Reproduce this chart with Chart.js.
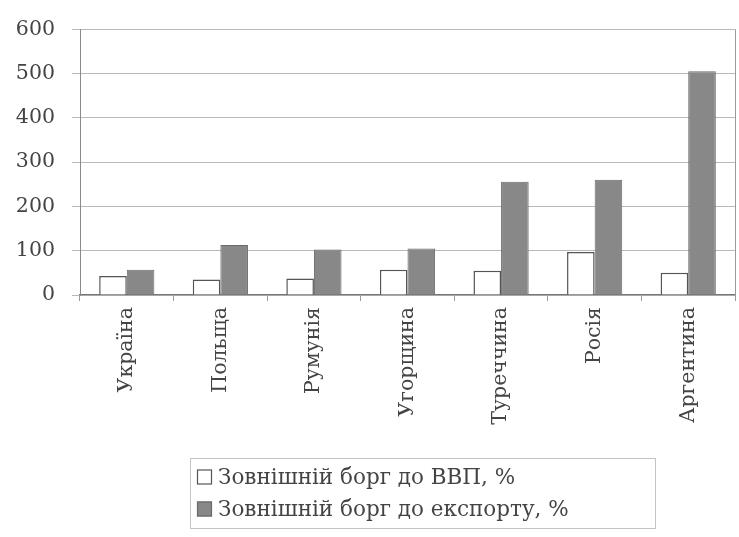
<!DOCTYPE html>
<html><head><meta charset="utf-8">
<script src="https://cdn.jsdelivr.net/npm/chart.js@4/dist/chart.umd.min.js"></script>
<style>html,body{margin:0;padding:0;background:#fff;} #wrap{width:739px;height:537px;}</style>
</head><body><div id="wrap"><canvas id="c" width="739" height="537"></canvas></div>
<script>
const categories = ['Україна','Польща','Румунія','Угорщина','Туреччина','Росія','Аргентина'];
const debtToGdp = [43, 35, 37, 57, 55, 97, 50];
const debtToExports = [57, 113, 103, 105, 256, 260, 505];
const seriesLabels = ['Зовнішній борг до ВВП, %', 'Зовнішній борг до експорту, %'];
const yMin = 0, yMax = 600, yStep = 100;

const FONT = '"DejaVu Serif", "Liberation Serif", serif';
const TEXT = '#444444';

const frame = {
  id: 'frame',
  afterDatasetsDraw(chart) {
    const {ctx, chartArea: a} = chart;
    ctx.save();
    ctx.strokeStyle = '#9a9a9a';
    ctx.lineWidth = 1;
    ctx.beginPath();
    ctx.moveTo(Math.round(a.right) + 0.5, a.top);
    ctx.lineTo(Math.round(a.right) + 0.5, a.bottom);
    ctx.stroke();
    ctx.restore();
  }
};

const boxLegend = {
  id: 'boxLegend',
  afterDraw(chart) {
    const {ctx, chartArea: a} = chart;
    const ds = chart.data.datasets;
    ctx.save();
    ctx.font = '21.5px ' + FONT;
    const sw = 15, gap = 6, lineH = 32;
    const left = a.left + 110, top = a.bottom + 163;
    const w = 465, h = 70;
    ctx.strokeStyle = '#c4c4c4';
    ctx.lineWidth = 1;
    ctx.strokeRect(left + 0.5, top + 0.5, w, h);
    ds.forEach((d, i) => {
      const cy = top + 19 + i * lineH;
      const x = left + 7;
      ctx.fillStyle = d.backgroundColor;
      ctx.fillRect(x, cy - sw / 2, sw, sw);
      ctx.strokeStyle = d.borderColor;
      ctx.lineWidth = 1.2;
      ctx.strokeRect(x + 0.5, cy - sw / 2 + 0.5, sw - 1, sw - 1);
      ctx.fillStyle = TEXT;
      ctx.textBaseline = 'middle';
      ctx.textAlign = 'left';
      ctx.fillText(d.label, x + sw + gap, cy + 1);
    });
    ctx.restore();
  }
};

new Chart(document.getElementById('c'), {
  type: 'bar',
  data: {
    labels: categories,
    datasets: [
      { label: seriesLabels[0], data: debtToGdp, backgroundColor: '#ffffff', borderColor: '#555555', borderWidth: 1.5 },
      { label: seriesLabels[1], data: debtToExports, backgroundColor: '#888888', borderColor: '#6a6a6a', borderWidth: 1 }
    ]
  },
  options: {
    responsive: false,
    animation: false,
    layout: { padding: { top: 22, right: 4, bottom: 102, left: 0 } },
    datasets: { bar: { categoryPercentage: 0.59, barPercentage: 1.0 } },
    plugins: { legend: { display: false }, tooltip: { enabled: false } },
    scales: {
      x: {
        afterFit(s) { s.height = 140; },
        grid: { display: true, drawOnChartArea: false, drawTicks: true, tickLength: 6, offset: true, color: '#999' },
        border: { display: true, color: '#777', width: 1.2 },
        ticks: { minRotation: 90, maxRotation: 90, autoSkip: false, padding: 6, color: TEXT, font: { family: FONT, size: 20.5 } }
      },
      y: {
        min: yMin, max: yMax,
        afterFit(s) { s.width = 80; },
        grid: { color: '#b8b8b8', lineWidth: 1, tickLength: 8, drawTicks: true },
        border: { display: true, color: '#8a8a8a', width: 1 },
        ticks: { stepSize: yStep, padding: 17, color: TEXT, font: { family: FONT, size: 20.5 } }
      }
    }
  },
  plugins: [frame, boxLegend]
});
</script></body></html>
